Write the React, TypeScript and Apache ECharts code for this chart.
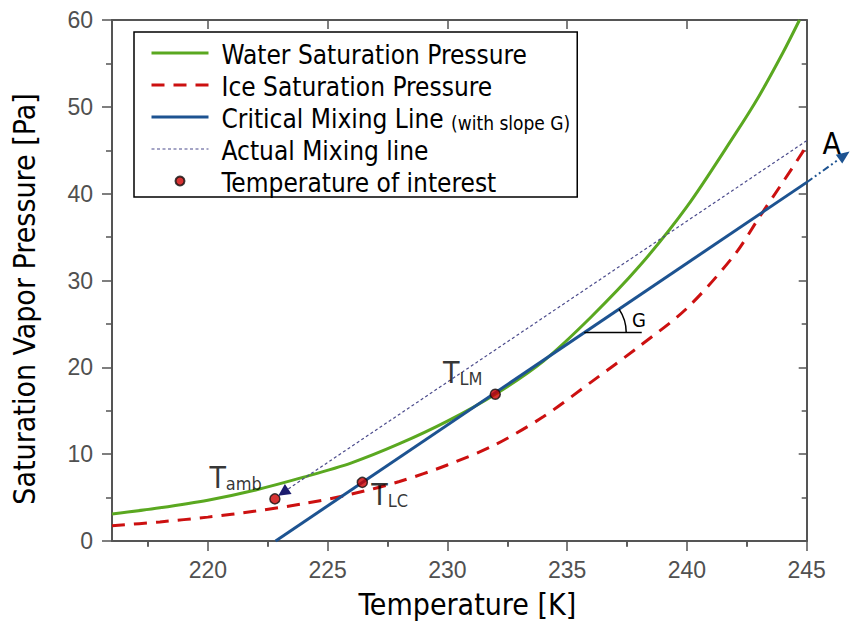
import React, { useEffect, useRef } from "react";
import * as echarts from "echarts";

// Temperature axis ticks (K)
const TEMP_TICKS = [220, 225, 230, 235, 240, 245];
const TEMP_MINOR_TICKS = [217.5, 222.5, 227.5, 232.5, 237.5, 242.5];

// Saturation vapour pressure over supercooled water (Pa)
const WATER_T = [216, 218, 220, 222, 224, 226, 228, 230, 232, 234, 236, 238, 240, 242, 243, 244, 244.7];
const WATER_P = [3.1, 3.83, 4.7, 5.88, 7.35, 9.0, 11.2, 13.8, 16.9, 20.7, 25.8, 31.6, 38.5, 46.8, 51.2, 56.2, 60];

// Saturation vapour pressure over ice (Pa)
const ICE_T = [216, 218, 220, 222, 224, 226, 228, 230, 232, 234, 236, 238, 240, 242, 243, 244, 245];
const ICE_P = [1.75, 2.2, 2.75, 3.45, 4.3, 5.4, 6.85, 8.75, 11.1, 14.3, 18.3, 22.4, 26.8, 33.0, 37.2, 41.3, 45.5];

// Critical mixing line (tangent to the water curve at T_LM)
const CRITICAL_T = [222.83, 245];
const CRITICAL_P = [0, 41.3];

// Actual mixing line, running from the hot end down to T_amb
const MIXING_T = [245, 222.94];
const MIXING_P = [46.1, 5.22];

// Continuation of the critical line toward point A (beyond the axis end)
const EXTENSION_T = [245, 246.79];
const EXTENSION_P = [41.3, 44.85];

// Temperatures of interest
const POINT_NAMES = ["amb", "LC", "LM"];
const POINT_T = [222.8, 226.45, 232];
const POINT_P = [4.85, 6.75, 16.9];

// Pressure level at which the slope angle G is marked
const ANGLE_P = 24;

const LEGEND_NAMES = [
  "Water Saturation Pressure",
  "Ice Saturation Pressure",
  "Critical Mixing Line",
  "Actual Mixing line",
  "Temperature of interest",
];
const LEGEND_LINE_WIDTHS = [3, 3, 3, 1.2];

const FONT = '"DejaVu Sans Condensed", "DejaVu Sans", sans-serif';
const TICK_FONT = '"Liberation Sans", Arial, sans-serif';
const AXIS_COLOR = "#555555";
const GREEN = "#5aa820";
const RED = "#cc1010";
const BLUE = "#1d5391";
const MIX = "#4b4b8c";
const NAVY = "#1b1b6e";

const zip = (xs: number[], ys: number[]) => xs.map((x, i) => [x, ys[i]]);

function arrowHead(from: number[], tip: number[], len: number, half: number) {
  const dx = tip[0] - from[0];
  const dy = tip[1] - from[1];
  const d = Math.hypot(dx, dy) || 1;
  const ux = dx / d;
  const uy = dy / d;
  const bx = tip[0] - ux * len;
  const by = tip[1] - uy * len;
  return {
    base: [bx, by],
    points: [
      [tip[0], tip[1]],
      [bx - uy * half, by + ux * half],
      [bx + uy * half, by - ux * half],
    ],
  };
}

const angleVertexT =
  CRITICAL_T[0] + ((ANGLE_P - CRITICAL_P[0]) * (CRITICAL_T[1] - CRITICAL_T[0])) / (CRITICAL_P[1] - CRITICAL_P[0]);

export default function App() {
  const ref = useRef<HTMLDivElement>(null);

  useEffect(() => {
    if (!ref.current) return;
    const chart = echarts.init(ref.current, undefined, { renderer: "svg" });

    const tickLine = { color: AXIS_COLOR, width: 1.5 };
    const xBase = { type: "value", min: 216, max: 245, splitLine: { show: false } };
    const yBase = { type: "value", min: 0, max: 60, interval: 10, splitLine: { show: false } };

    const option: any = {
      animation: false,
      backgroundColor: "#ffffff",
      grid: { left: 112, right: 44.3, top: 20, bottom: 81 },
      legend: {
        orient: "vertical",
        left: 134,
        top: 32,
        padding: [6, 7, 1, 16],
        itemGap: 2,
        itemWidth: 57,
        itemHeight: 9,
        backgroundColor: "#ffffff",
        borderColor: "#000000",
        borderWidth: 1.5,
        selectedMode: false,
        // line entries show only their stroke; the point entry shows its marker
        data: LEGEND_NAMES.map((name, i) =>
          i < 4
            ? { name, itemStyle: { opacity: 0 }, lineStyle: { width: LEGEND_LINE_WIDTHS[i] } }
            : { name }
        ),
        formatter: (name: string) =>
          name === "Critical Mixing Line" ? "{m|Critical Mixing Line }{s|(with slope G)}" : `{m|${name}}`,
        textStyle: {
          fontFamily: FONT,
          fontSize: 26,
          lineHeight: 30,
          color: "#000000",
          padding: [0, 0, 0, 8],
          rich: {
            m: { fontFamily: FONT, fontSize: 26, lineHeight: 30, color: "#000000", verticalAlign: "bottom" },
            s: { fontFamily: FONT, fontSize: 19, lineHeight: 24.6, color: "#000000", verticalAlign: "bottom" },
          },
        },
      },
      xAxis: [
        {
          ...xBase,
          position: "bottom",
          name: "Temperature [K]",
          nameLocation: "middle",
          nameGap: 48,
          nameTextStyle: { fontFamily: FONT, fontSize: 30, color: "#000000", padding: [0, 0, 0, 16] },
          axisLine: { show: true, onZero: false, lineStyle: { color: AXIS_COLOR, width: 2 } },
          axisTick: { show: true, customValues: TEMP_TICKS, length: 10, lineStyle: tickLine },
          axisLabel: {
            show: true,
            customValues: TEMP_TICKS,
            margin: 17,
            fontFamily: TICK_FONT,
            fontSize: 23,
            color: "#505050",
          },
        },
        {
          ...xBase,
          position: "bottom",
          axisLine: { show: false },
          axisTick: { show: true, customValues: TEMP_MINOR_TICKS, length: 6, lineStyle: tickLine },
          axisLabel: { show: false },
        },
        {
          ...xBase,
          position: "top",
          axisLine: { show: true, onZero: false, lineStyle: { color: AXIS_COLOR, width: 2 } },
          axisTick: { show: true, inside: true, customValues: TEMP_TICKS, length: 9, lineStyle: tickLine },
          axisLabel: { show: false },
        },
        {
          ...xBase,
          position: "top",
          axisLine: { show: false },
          axisTick: { show: true, inside: true, customValues: TEMP_MINOR_TICKS, length: 5, lineStyle: tickLine },
          axisLabel: { show: false },
        },
      ],
      yAxis: [
        {
          ...yBase,
          position: "left",
          name: "Saturation Vapor Pressure [Pa]",
          nameLocation: "middle",
          nameGap: 73,
          nameTextStyle: { fontFamily: FONT, fontSize: 30, color: "#000000", padding: [0, 37, 0, 0] },
          axisLine: { show: true, onZero: false, lineStyle: { color: AXIS_COLOR, width: 2 } },
          axisTick: { show: true, length: 10, lineStyle: tickLine },
          minorTick: { show: true, splitNumber: 2, length: 6, lineStyle: tickLine },
          minorSplitLine: { show: false },
          axisLabel: { show: true, margin: 19, fontFamily: TICK_FONT, fontSize: 23, color: "#505050" },
        },
        {
          ...yBase,
          position: "right",
          axisLine: { show: true, onZero: false, lineStyle: { color: AXIS_COLOR, width: 2 } },
          axisTick: { show: true, inside: true, length: 8, lineStyle: tickLine },
          minorTick: { show: true, splitNumber: 2, length: 5, lineStyle: tickLine },
          minorSplitLine: { show: false },
          axisLabel: { show: false },
        },
      ],
      series: [
        {
          name: "Water Saturation Pressure",
          type: "line",
          data: zip(WATER_T, WATER_P),
          smooth: 0.3,
          symbol: "none",
          lineStyle: { color: GREEN, width: 3 },
          itemStyle: { color: GREEN },
          z: 2,
        },
        {
          name: "Ice Saturation Pressure",
          type: "line",
          data: zip(ICE_T, ICE_P),
          smooth: 0.3,
          symbol: "none",
          lineStyle: { color: RED, width: 3, type: [13, 9] },
          itemStyle: { color: RED },
          z: 2,
        },
        {
          name: "Critical Mixing Line",
          type: "line",
          data: zip(CRITICAL_T, CRITICAL_P),
          symbol: "none",
          lineStyle: { color: BLUE, width: 3 },
          itemStyle: { color: BLUE },
          z: 3,
        },
        {
          name: "Actual Mixing line",
          type: "line",
          data: zip(MIXING_T, MIXING_P),
          symbol: "none",
          lineStyle: { color: MIX, width: 1.2, type: [3, 2.5] },
          itemStyle: { color: MIX },
          z: 3,
        },
        {
          name: "Temperature of interest",
          type: "scatter",
          data: POINT_T.map((t, i) => {
            const base = { value: [t, POINT_P[i]], name: POINT_NAMES[i] };
            if (i === 0) return { ...base, label: { position: [-7.3, -1.1], align: "right" } };
            if (i === 1) return { ...base, label: { position: [14.7, 33.3], align: "left" } };
            return { ...base, label: { position: [-7, -1.4], align: "right" } };
          }),
          symbol: "circle",
          symbolSize: 10,
          itemStyle: { color: "#cc0000", borderColor: "#111111", borderWidth: 1.5 },
          label: {
            show: true,
            verticalAlign: "bottom",
            formatter: (p: any) => `{t|T}{s|${p.name}}`,
            rich: {
              t: { fontFamily: FONT, fontSize: 30, lineHeight: 30, color: "#000000", verticalAlign: "bottom" },
              s: { fontFamily: FONT, fontSize: 18, lineHeight: 21.7, color: "#000000", verticalAlign: "bottom" },
            },
          },
          z: 5,
        },
        {
          type: "custom",
          clip: false,
          silent: true,
          z: 6,
          data: [
            [EXTENSION_T[0], EXTENSION_P[0]],
            [MIXING_T[1], MIXING_P[1]],
            [angleVertexT, ANGLE_P],
          ],
          renderItem: (params: any, api: any) => {
            const i = params.dataIndex;
            if (i === 0) {
              const p0 = api.coord([EXTENSION_T[0], EXTENSION_P[0]]);
              const p1 = api.coord([EXTENSION_T[1], EXTENSION_P[1]]);
              const head = arrowHead(p0, p1, 13, 5.5);
              return {
                type: "group",
                children: [
                  {
                    type: "line",
                    shape: { x1: p0[0], y1: p0[1], x2: head.base[0], y2: head.base[1] },
                    style: { stroke: BLUE, lineWidth: 2, lineDash: [7, 3, 2, 3, 2, 3] },
                  },
                  { type: "polygon", shape: { points: head.points }, style: { fill: BLUE } },
                  {
                    type: "text",
                    style: {
                      text: "A",
                      x: p1[0] - 27,
                      y: p1[1] - 7.9,
                      fontFamily: FONT,
                      fontSize: 30,
                      fill: "#000000",
                      align: "left",
                      verticalAlign: "middle",
                    },
                  },
                ],
              };
            }
            if (i === 1) {
              const from = api.coord([MIXING_T[0], MIXING_P[0]]);
              const tip = api.coord([MIXING_T[1], MIXING_P[1]]);
              const head = arrowHead(from, tip, 12, 6);
              return { type: "polygon", shape: { points: head.points }, style: { fill: NAVY } };
            }
            // slope angle G between the critical line and the horizontal
            const v = api.coord([angleVertexT, ANGLE_P]);
            const a = api.coord([CRITICAL_T[0], CRITICAL_P[0]]);
            const b = api.coord([CRITICAL_T[1], CRITICAL_P[1]]);
            const theta = Math.atan2(a[1] - b[1], b[0] - a[0]);
            return {
              type: "group",
              children: [
                {
                  type: "line",
                  shape: { x1: v[0], y1: v[1], x2: v[0] + 57.5, y2: v[1] },
                  style: { stroke: "#000000", lineWidth: 1.5 },
                },
                {
                  type: "arc",
                  shape: { cx: v[0], cy: v[1], r: 42, startAngle: -theta, endAngle: 0, clockwise: true },
                  style: { stroke: "#000000", lineWidth: 1.5, fill: "none" },
                },
                {
                  type: "text",
                  style: {
                    text: "G",
                    x: v[0] + 47.7,
                    y: v[1] - 13,
                    fontFamily: FONT,
                    fontSize: 20,
                    fill: "#000000",
                    align: "left",
                    verticalAlign: "middle",
                  },
                },
              ],
            };
          },
        },
      ],
    };

    chart.setOption(option);
    return () => chart.dispose();
  }, []);

  return (
    <div
      ref={ref}
      style={{ position: "fixed", left: 0, top: 0, width: 851, height: 624, background: "#ffffff" }}
    />
  );
}
